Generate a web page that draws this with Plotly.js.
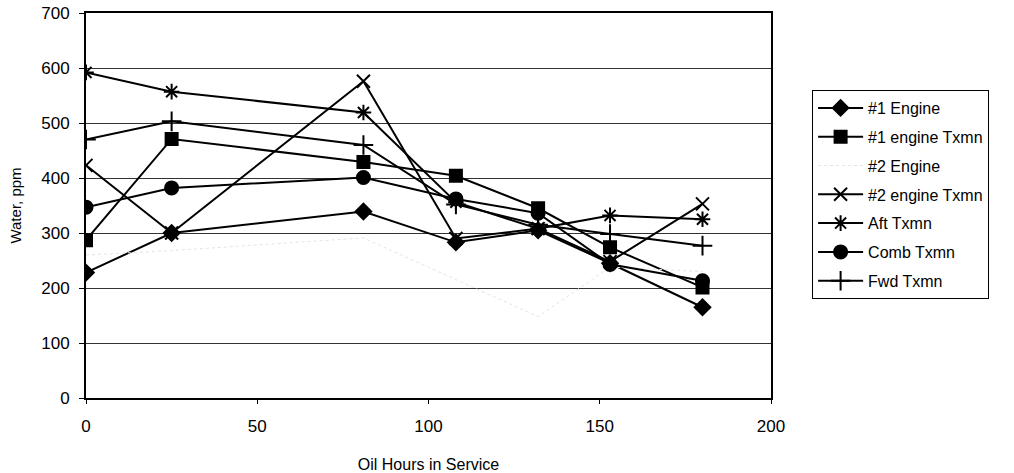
<!DOCTYPE html>
<html>
<head>
<meta charset="utf-8">
<script src="https://cdn.plot.ly/plotly-3.0.1.min.js"></script>
<style>html,body{margin:0;padding:0;background:#fff;}#chart{width:1014px;height:473px;}</style>
</head>
<body>
<div id="chart"></div>
<script>
const hours = [0, 25, 81, 108, 132, 153, 180];
const engine1 = [228, 300, 339, 283, 305, 245, 165];
const engine1Txmn = [287, 471, 429, 404, 345, 274, 201];
const engine2 = [260, 268, 291, 215, 148, 238, 230];
const engine2Txmn = [423, 300, 576, 290, 308, 248, 353];
const aftTxmn = [592, 557, 519, 356, 308, 332, 325];
const combTxmn = [347, 382, 401, 362, 336, 243, 213];
const fwdTxmn = [470, 503, 460, 352, 315, 298, 277];
const names = ['#1 Engine', '#1 engine Txmn', '#2 Engine', '#2 engine Txmn', 'Aft Txmn', 'Comb Txmn', 'Fwd Txmn'];
const xTicks = [0, 50, 100, 150, 200];
const yTicks = [0, 100, 200, 300, 400, 500, 600, 700];

const series = [engine1, engine1Txmn, engine2, engine2Txmn, aftTxmn, combTxmn, fwdTxmn];
const symbols = ['diamond', 'square', 'circle', 'x-thin-open', 'asterisk-open', 'circle', 'cross-thin-open'];
const sizes = [12, 12, 0, 13, 13, 13, 14];
const traces = series.map((vals, i) => {
  const faint = i === 2;
  return {
    x: hours, y: vals, name: names[i], type: 'scatter',
    mode: faint ? 'lines' : 'lines+markers',
    legendgroup: 'g' + i,
    line: faint ? {color: '#e4e4e4', width: 1, dash: 'dot'} : {color: '#000', width: 2},
    marker: {symbol: symbols[i], size: sizes[i], color: '#000', line: {color: '#000', width: 2}}
  };
});

const layout = {
  width: 1014, height: 473,
  margin: {l: 86, r: 243, t: 13, b: 75},
  paper_bgcolor: '#fff', plot_bgcolor: '#fff',
  font: {family: 'Liberation Sans, Arial, sans-serif', color: '#000', size: 16},
  showlegend: true,
  legend: {
    x: 1.06, y: 0.80, xanchor: 'left', yanchor: 'top',
    bordercolor: '#000', borderwidth: 1, bgcolor: '#fff',
    font: {size: 16, color: '#000'}, tracegroupgap: 5, itemwidth: 45
  },
  xaxis: {
    range: [0, 200], tickvals: xTicks, ticktext: xTicks.map(String),
    showgrid: false, zeroline: false,
    showline: true, linecolor: '#000', linewidth: 2, mirror: true,
    ticks: 'outside', ticklen: 4, tickcolor: '#000',
    tickfont: {size: 17}, ticklabelstandoff: 8,
    title: {text: 'Oil Hours in Service', font: {size: 16}, standoff: 26}
  },
  yaxis: {
    range: [0, 700], tickvals: yTicks, ticktext: yTicks.map(String),
    showgrid: true, gridcolor: '#333', gridwidth: 1, zeroline: false,
    showline: true, linecolor: '#000', linewidth: 2, mirror: true,
    ticks: 'outside', ticklen: 5, tickcolor: '#000',
    tickfont: {size: 17}, ticklabelstandoff: 6,
    title: {text: 'Water, ppm', font: {size: 15}, standoff: 16}
  }
};

Plotly.newPlot('chart', traces, layout, {displayModeBar: false, staticPlot: true});
</script>
</body>
</html>
